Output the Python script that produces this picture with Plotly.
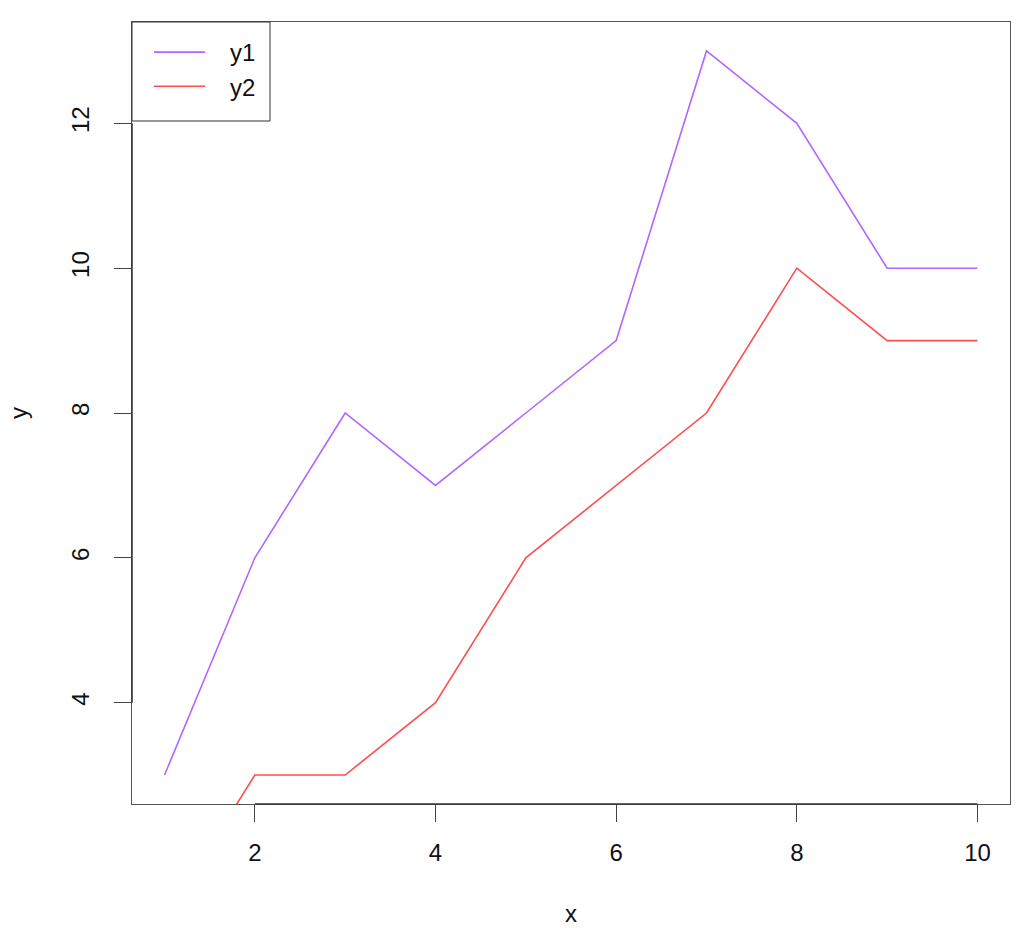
import plotly.graph_objects as go

x = [1, 2, 3, 4, 5, 6, 7, 8, 9, 10]
y1 = [3, 6, 8, 7, 8, 9, 13, 12, 10, 10]
y2 = [1, 3, 3, 4, 6, 7, 8, 10, 9, 9]
series_names = ["y1", "y2"]
colors = ["#B266FF", "#FF4D4D"]
x_ticks = [2, 4, 6, 8, 10]
y_ticks = [4, 6, 8, 10, 12]

FONT = "Liberation Sans, Arial, sans-serif"
FS = 24

fig = go.Figure()
for name, ys, c in zip(series_names, [y1, y2], colors):
    fig.add_trace(go.Scatter(x=x, y=ys, mode="lines",
                             name="\u00a0\u00a0\u00a0" + name,
                             line=dict(color=c, width=1.6)))

xmin, xmax = min(x), max(x)
ymin, ymax = min(y1), max(y1)
xpad = (xmax - xmin) * 0.04
ypad = (ymax - ymin) * 0.04

axis_common = dict(
    showgrid=False, zeroline=False,
    showline=True, linecolor="#555555", linewidth=1, mirror=True,
    ticks="outside", ticklen=17, tickcolor="#444444", tickwidth=1,
    tickfont=dict(family=FONT, size=FS, color="#111111"),
)

fig.update_layout(
    width=1034, height=951,
    paper_bgcolor="white", plot_bgcolor="white",
    margin=dict(l=132, r=24, t=22, b=147),
    font=dict(family=FONT, size=FS, color="#111111"),
    xaxis=dict(range=[xmin - xpad, xmax + xpad], tickvals=x_ticks,
               ticklabelstandoff=10,
               title=dict(text="x", font=dict(size=FS), standoff=40),
               **axis_common),
    yaxis=dict(range=[ymin - ypad, ymax + ypad], tickvals=y_ticks,
               tickangle=-90, ticklabelstandoff=15,
               title=dict(text="y", font=dict(size=FS), standoff=33),
               **axis_common),
    legend=dict(x=(149 - 132) / 878, y=1 - 8 / 782, xanchor="left", yanchor="top",
                bgcolor="rgba(0,0,0,0)", borderwidth=0,
                font=dict(family=FONT, size=FS, color="#111111"),
                itemwidth=51, tracegroupgap=0),
    showlegend=True,
)

# legend frame
fig.add_shape(type="rect", xref="paper", yref="paper",
              x0=0, x1=(270 - 132) / 878, y0=1 - (121 - 22) / 782, y1=1,
              line=dict(color="#333333", width=1), fillcolor="rgba(0,0,0,0)")

# darker axis segments spanning first to last tick (R axis lines)
fig.add_shape(type="line", xref="x domain", yref="y", x0=0, x1=0,
              y0=y_ticks[0], y1=y_ticks[-1], line=dict(color="#333333", width=1.5))
fig.add_shape(type="line", xref="x", yref="y domain", x0=x_ticks[0], x1=x_ticks[-1],
              y0=0, y1=0, line=dict(color="#333333", width=1.5))

fig.write_html("out.html")
